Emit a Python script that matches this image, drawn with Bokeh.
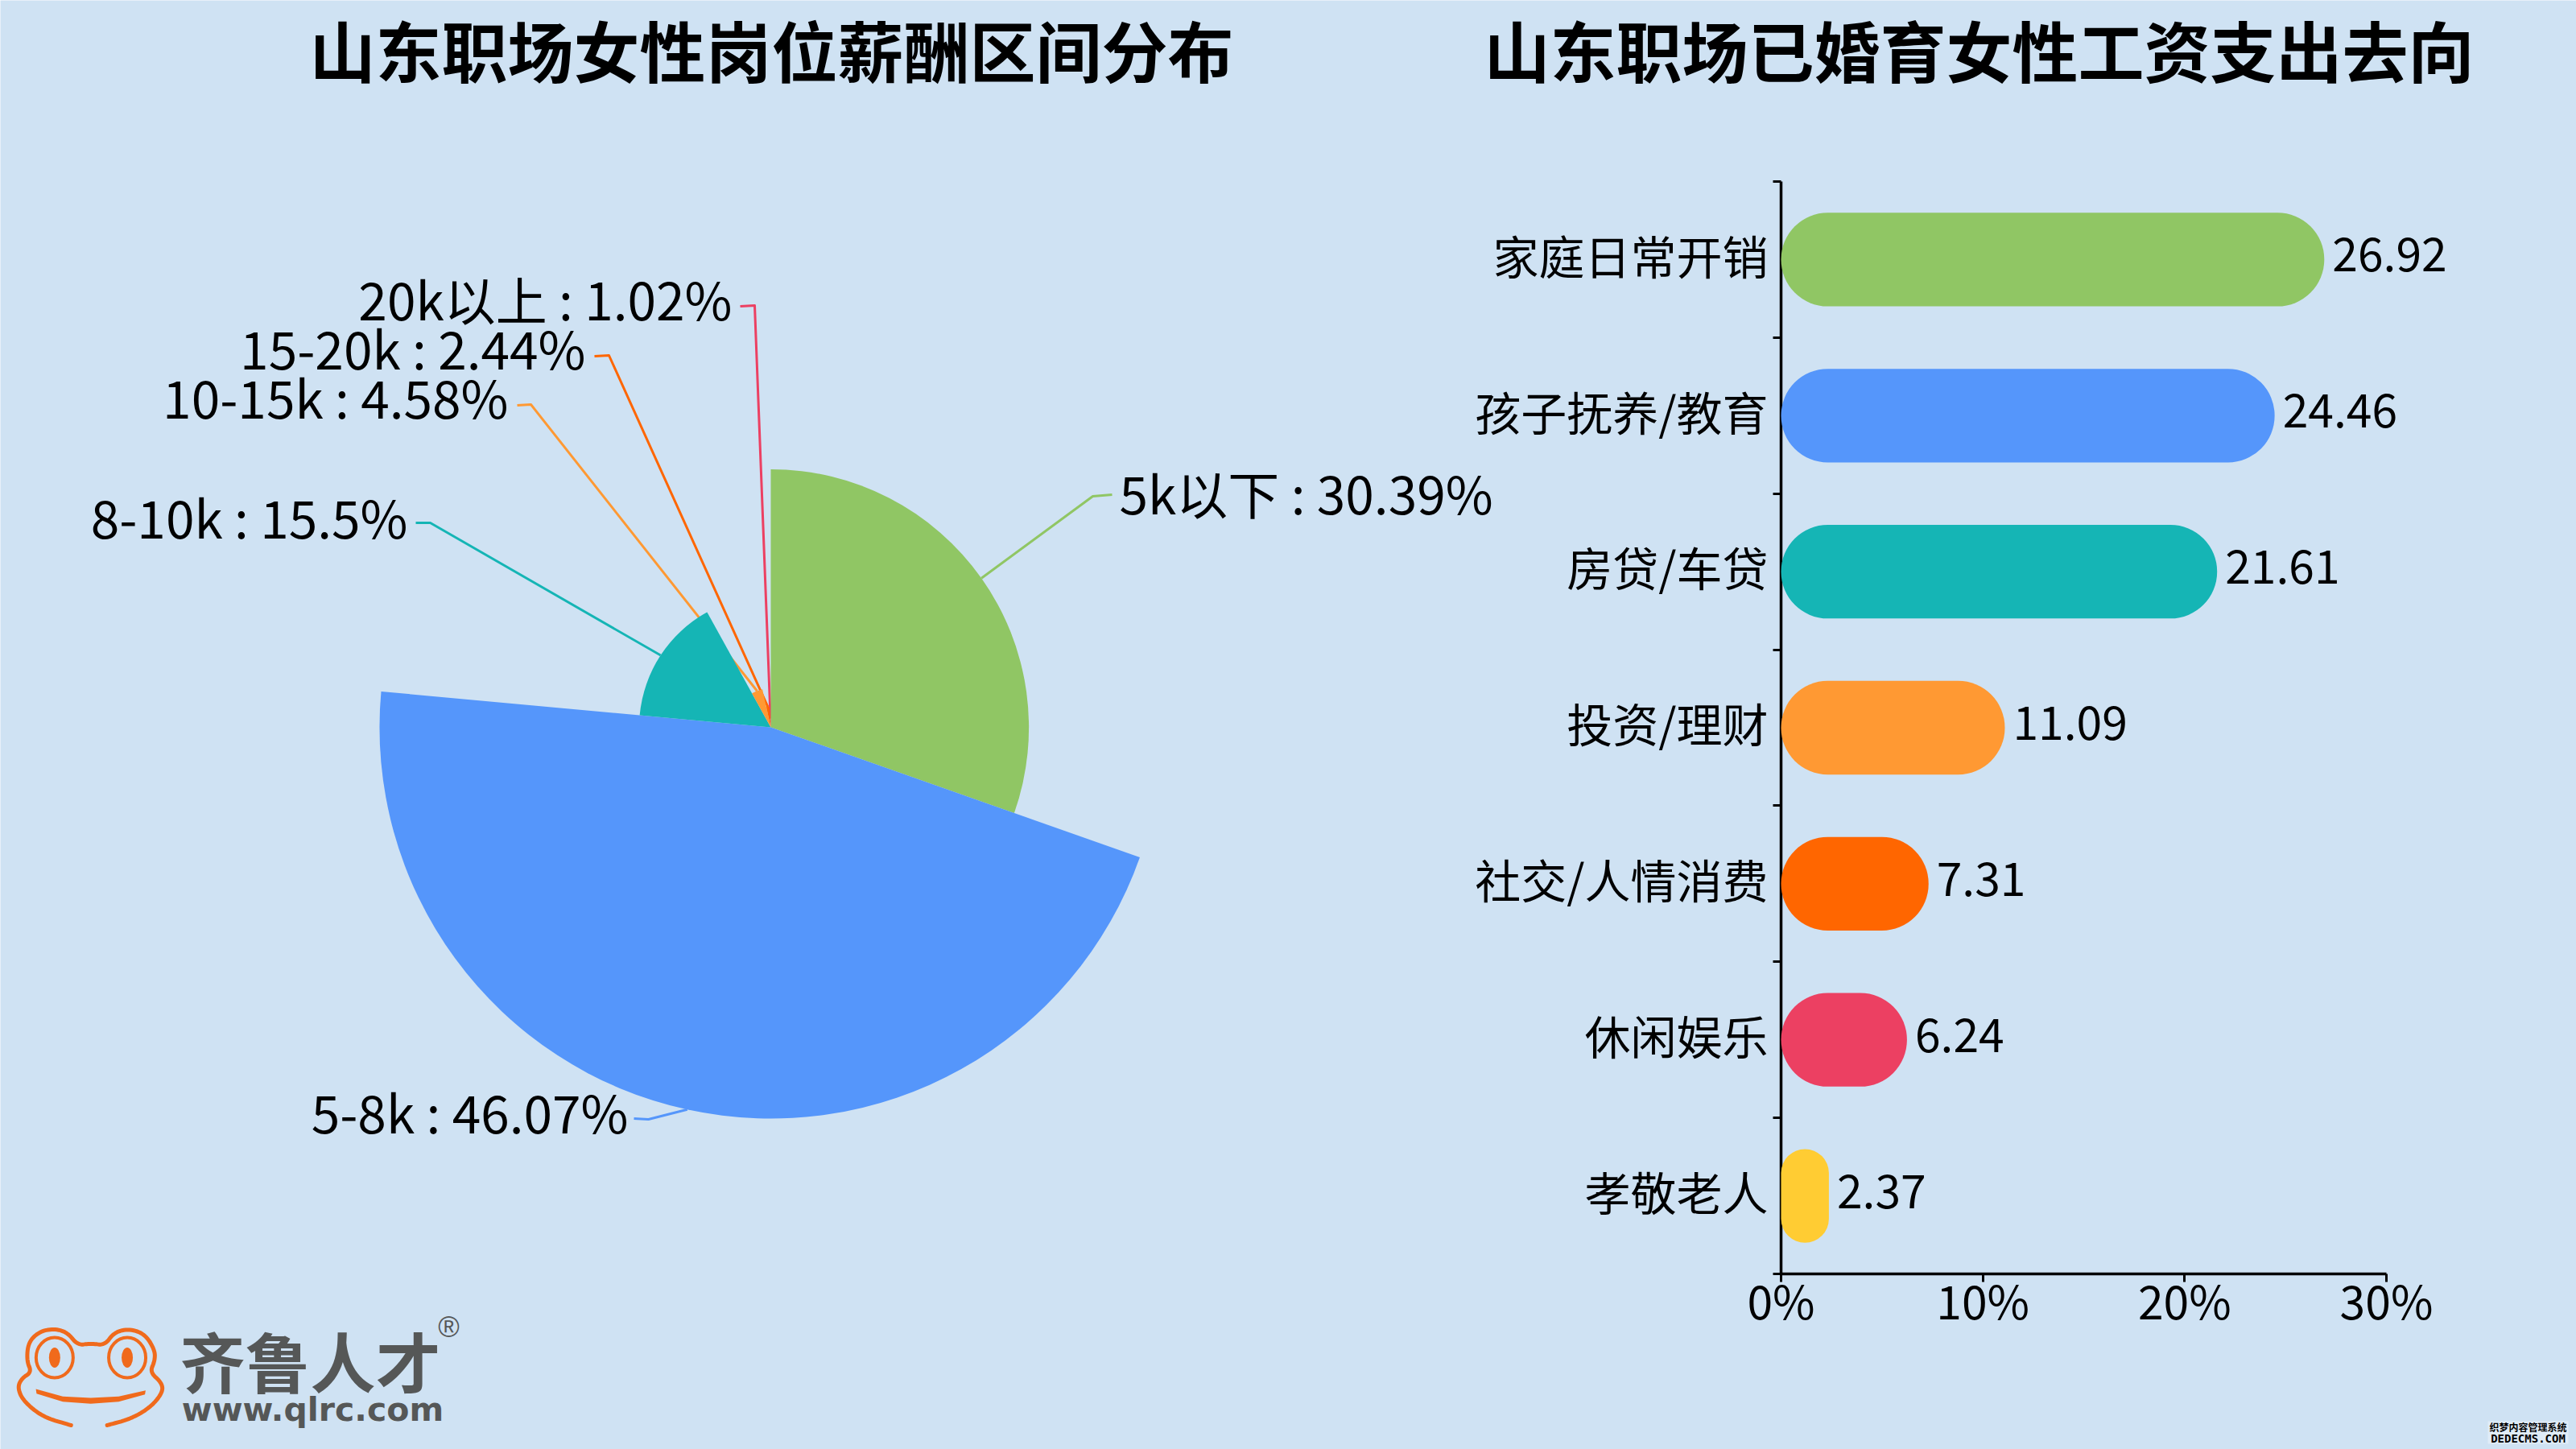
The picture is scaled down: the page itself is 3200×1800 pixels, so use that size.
import numpy as np
from bokeh.core.properties import value
from bokeh.embed import file_html
from bokeh.layouts import row
from bokeh.models import ColumnDataSource, FixedTicker, LinearAxis, Range1d
from bokeh.plotting import figure
from bokeh.resources import INLINE

# pie data
pie_names = ['5k以下', '5-8k', '8-10k', '10-15k', '15-20k', '20k以上']
pie_values = [30.39, 46.07, 15.5, 4.58, 2.44, 1.02]
pie_colors = ['#90c664', '#5596fb', '#15b5b5', '#ff9933', '#ff6600', '#ec4062']

# bar data, top to bottom
bar_names = ['家庭日常开销', '孩子抚养/教育', '房贷/车贷', '投资/理财', '社交/人情消费', '休闲娱乐', '孝敬老人']
bar_values = [26.92, 24.46, 21.61, 11.09, 7.31, 6.24, 2.37]
bar_colors = ['#90c664', '#5596fb', '#15b5b5', '#ff9933', '#ff6600', '#ec4062', '#ffcc33']
x_ticks = [0, 10, 20, 30]

BG = '#cfe2f3'
FONT = "Noto Sans CJK SC"
TEXT_SIZE = '57px'
PIE_TEXT_SIZE = '64px'
TITLE_SIZE = '82px'
LOGO_ORANGE = '#f06a1c'
LOGO_GREY = '#555757'

# layout numbers below are page pixels
PAGE_W, PAGE_H = 3200, 1800
BAR_LEFT = 1810


def fy(y):
    return PAGE_H - np.asarray(y, dtype=float)


def smooth(points, rounds=3):
    pts = np.array(points, dtype=float)
    for _ in range(rounds):
        q = 0.75 * pts[:-1] + 0.25 * pts[1:]
        r = 0.25 * pts[:-1] + 0.75 * pts[1:]
        mid = np.empty((len(q) * 2, 2))
        mid[0::2] = q
        mid[1::2] = r
        pts = np.vstack([pts[:1], mid, pts[-1:]])
    return pts


def zoomed(points):
    pts = np.array(points, dtype=float)
    return np.column_stack([pts[:, 0] / 2.45, 1600 + pts[:, 1] / 3])


# ---- page figure: titles, rose pie, logo
p1 = figure(width=PAGE_W, height=PAGE_H, x_range=Range1d(0, PAGE_W), y_range=Range1d(0, PAGE_H),
            x_axis_type=None, y_axis_type=None, toolbar_location=None, output_backend="svg",
            min_border=0, outline_line_color=None, background_fill_color=BG, border_fill_color=BG)
p1.grid.visible = False
p1.frame_align = False

cx, cy = 957, 903
radius_per_value = 10.55

vals = np.array(pie_values)
share = vals / vals.sum()
ends = np.cumsum(share) * 2 * np.pi
starts = ends - share * 2 * np.pi
mids = (starts + ends) / 2
radii = vals * radius_per_value

# leader lines: slice edge -> elbow -> label end
elbow_x = [1357, 805, 534, 659, 756, 937]
elbow_y = [616, 1390, 649, 502, 441, 379]
end_x = [1381, 787, 516, 642, 738, 919]
end_y = [614, 1389, 649, 503, 442, 380]
label_x = [1390, 780, 506, 631, 727, 909]
label_y = [610, 1379, 640, 491, 430, 369]
label_side = ['left', 'right', 'right', 'right', 'right', 'right']

xs, ys = [], []
for i in range(len(vals)):
    sx = cx + radii[i] * np.sin(mids[i])
    sy = cy - radii[i] * np.cos(mids[i])
    xs.append([sx, elbow_x[i], end_x[i]])
    ys.append(fy([sy, elbow_y[i], end_y[i]]))
p1.multi_line(xs, ys, line_color=pie_colors, line_width=3, line_join='round')

p1.wedge(x=cx, y=fy(cy), radius=radii, start_angle=np.pi / 2 - starts, end_angle=np.pi / 2 - ends,
         direction='clock', fill_color=pie_colors, line_color=None)

p1.text(x=label_x, y=fy(label_y), text=[f"{n} : {v}%" for n, v in zip(pie_names, pie_values)],
        text_align=label_side, text_baseline='middle', text_font=value(FONT), text_font_size=PIE_TEXT_SIZE,
        text_color='black')

# titles
p1.text(x=[958, 2458], y=fy([60, 60]), text=['山东职场女性岗位薪酬区间分布', '山东职场已婚育女性工资支出去向'],
        text_align='center', text_baseline='middle', text_font=value(FONT), text_font_size=TITLE_SIZE,
        text_font_style='bold', text_color='black')

# logo
frog = zoomed([(215, 510), (130, 480), (70, 420), (52, 370), (65, 335), (95, 312), (80, 270), (85, 200),
               (120, 160), (165, 150), (205, 165), (235, 212), (275, 205), (318, 212), (345, 165), (390, 150),
               (440, 170), (470, 230), (470, 270), (455, 312), (490, 350), (495, 385), (460, 440), (400, 485),
               (325, 510)])
frog = smooth(frog, 3)
p1.line(frog[:, 0], fy(frog[:, 1]), line_color=LOGO_ORANGE, line_width=5, line_cap='round')
eye_x = np.array([165, 386]) / 2.45
eye_y = fy(1600 + 258 / 3)
p1.ellipse(x=eye_x, y=eye_y, width=46, height=50, fill_color=None, line_color=LOGO_ORANGE, line_width=4)
p1.ellipse(x=eye_x, y=eye_y, width=14, height=25, fill_color=LOGO_ORANGE, line_color=None)
mouth = zoomed([(108, 375), (190, 403), (275, 408), (360, 403), (442, 380), (440, 395), (360, 422),
                (275, 430), (190, 422), (110, 392), (108, 375)])
p1.patch(mouth[:, 0], fy(mouth[:, 1]), fill_color=LOGO_ORANGE, line_color=None)

p1.text(x=[385], y=fy([1688]), text=['齐鲁人才'], text_align='center', text_baseline='middle', text_font=value(FONT),
        text_font_size='81px', text_font_style='bold', text_color=LOGO_GREY)
p1.text(x=[388], y=fy([1750]), text=['www.qlrc.com'], text_align='center', text_baseline='middle',
        text_font=value('DejaVu Sans'), text_font_size='41px', text_font_style='bold', text_color=LOGO_GREY)
p1.text(x=[557], y=fy([1648]), text=['®'], text_align='center', text_baseline='middle',
        text_font=value('Liberation Sans'), text_font_size='36px', text_color=LOGO_GREY)

# small watermark, bottom right
p1.rect(x=[3140], y=fy([1779]), width=100, height=28, fill_color='white', fill_alpha=0.35, line_color=None)
p1.text(x=[3140], y=fy([1772]), text=['织梦内容管理系统'], text_align='center', text_baseline='middle',
        text_font=value(FONT), text_font_size='12px', text_font_style='bold', text_color='black')
p1.text(x=[3140], y=fy([1786]), text=['DEDECMS.COM'], text_align='center', text_baseline='middle',
        text_font=value('DejaVu Sans Mono'), text_font_size='14px', text_font_style='bold', text_color='black')

# ---- bars, a transparent figure laid over the page figure
frame_left, frame_right, frame_top, frame_bottom = 2212, 3190, 225, 1582
n = len(bar_names)
band_y = [n - i - 0.5 for i in range(n)]
name_y = [y + 0.035 for y in band_y]  # hidden ticks, nudged so names centre on the bars
px_per_pct = (2964 - frame_left) / x_ticks[-1]

p2 = figure(width=PAGE_W - BAR_LEFT, height=PAGE_H, x_range=Range1d(0, (frame_right - frame_left) / px_per_pct),
            y_range=Range1d(0, n), x_axis_type=None, y_axis_type=None, toolbar_location=None, output_backend="svg",
            min_border_left=frame_left - BAR_LEFT, min_border_right=PAGE_W - frame_right,
            min_border_top=frame_top, min_border_bottom=PAGE_H - frame_bottom,
            outline_line_color=None, background_fill_alpha=0, border_fill_alpha=0)
p2.grid.visible = False
p2.frame_align = False
p2.margin = (0, 0, 0, -(PAGE_W - BAR_LEFT))

xaxis = LinearAxis(ticker=FixedTicker(ticks=x_ticks), major_label_overrides={t: f"{t}%" for t in x_ticks},
                   bounds=(x_ticks[0], x_ticks[-1]))
xaxis.major_tick_in = 0
xaxis.major_tick_out = 10
xaxis.minor_tick_line_color = None
xaxis.axis_line_width = 3.5
xaxis.major_tick_line_width = 3
xaxis.major_label_standoff = -20
xaxis.major_label_text_font = FONT
xaxis.major_label_text_font_size = TEXT_SIZE
xaxis.major_label_text_color = 'black'
p2.add_layout(xaxis, 'below')

# names sit on band centres, tick marks on band edges
yaxis = LinearAxis(ticker=FixedTicker(ticks=name_y, minor_ticks=list(range(n + 1))),
                   major_label_overrides=dict(zip(name_y, bar_names)))
yaxis.major_tick_line_color = None
yaxis.major_tick_in = 0
yaxis.major_tick_out = 0
yaxis.minor_tick_in = 0
yaxis.minor_tick_out = 10
yaxis.minor_tick_line_width = 3
yaxis.axis_line_width = 3.5
yaxis.major_label_standoff = 6
yaxis.major_label_text_font = FONT
yaxis.major_label_text_font_size = TEXT_SIZE
yaxis.major_label_text_color = 'black'
p2.add_layout(yaxis, 'left')

source = ColumnDataSource(dict(y=band_y, value=bar_values, color=bar_colors, label=[str(v) for v in bar_values]))
p2.hbar(y='y', left=0, right='value', height=0.6, fill_color='color', line_color=None,
        border_radius=58, source=source, level='overlay')
p2.text(x='value', y='y', text='label', source=source, x_offset=10, y_offset=-6, text_baseline='middle',
        text_font=value(FONT), text_font_size=TEXT_SIZE, text_color='black')

page = row(p1, p2)
open("out.html", "w").write(file_html(page, INLINE))
